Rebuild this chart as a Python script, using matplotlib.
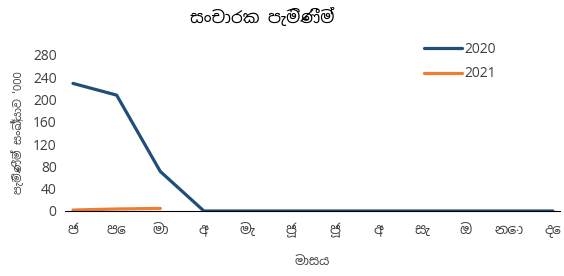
import matplotlib
matplotlib.use("Agg")
import matplotlib.pyplot as plt
from matplotlib import font_manager

# data
months = ["ජ", "පෙ", "මා", "අ", "මැ", "ජූ", "ජූ", "අ", "සැ", "ඔ", "නො", "දෙ"]
arrivals_2020 = [229, 208, 71, 0, 0, 0, 0, 0, 0, 0, 0, 0]
arrivals_2021 = [1.7, 3.6, 4.6]

# try to find a font with Sinhala glyphs
names = sorted({f.name for f in font_manager.fontManager.ttflist})
sinhala = [n for n in names if "Sinhala" in n or "Iskoola" in n]
families = sinhala + ["DejaVu Sans"]
plt.rcParams["font.family"] = families

fig = plt.figure(figsize=(5.64, 2.76), dpi=100)
ax = fig.add_axes([65 / 564, 1 - 211 / 276, 495 / 564, 156 / 276])

x20 = list(range(len(arrivals_2020)))
x21 = list(range(len(arrivals_2021)))
ax.plot(x20, arrivals_2020, color="#1F4E79", lw=2.3, label="2020", solid_capstyle="round")
ax.plot(x21, arrivals_2021, color="#ED7D31", lw=2.3, label="2021", solid_capstyle="round")

ax.set_xlim(-8 / 43.6, 11 + 7 / 43.6)
ax.set_ylim(0, 280)
ax.set_yticks(range(0, 281, 40))
ax.set_xticks(x20)
ax.set_xticklabels(months)
ax.tick_params(axis="x", length=0, labelsize=10, colors="#404040", pad=9)
ax.tick_params(axis="y", length=0, labelsize=10, colors="#404040", pad=6)
for s in ["top", "right", "left"]:
    ax.spines[s].set_visible(False)
ax.spines["bottom"].set_color("black")
ax.spines["bottom"].set_linewidth(0.8)

ax.set_xlabel("මාසය", fontsize=9, color="#404040", labelpad=12)
ax.set_ylabel("පැමිණීම් සංඛ්‍යාව '000", fontsize=8, color="#404040", labelpad=6)
fig.text(262 / 564, 1 - 18 / 276, "සංචාරක පැමිණීම්", ha="center", va="center",
         fontsize=12, fontweight="bold")

ax.legend(loc="upper left", bbox_to_anchor=(0.701, 1.165), bbox_transform=ax.transAxes,
          frameon=False, fontsize=10, handlelength=2.7, labelspacing=0.7, handletextpad=0.2,
          labelcolor="#404040")

fig.savefig("out.png", dpi=100)
